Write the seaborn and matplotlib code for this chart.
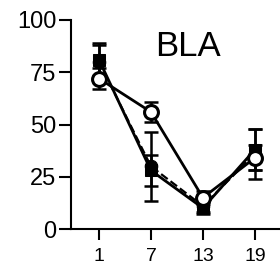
import matplotlib
matplotlib.use("Agg")
import matplotlib.pyplot as plt
import seaborn as sns
import pandas as pd

# Data
days = [1, 7, 13, 19]
sq_mean = [81, 28, 10, 38]
sq_err = [8, 7.5, 3, 10]
fill_mean = [80, 30, 11, 36]
fill_err = [8, 16.5, 3, 12]
open_mean = [72, 56, 15, 34]
open_err = [5, 5, 3, 6]

sns.set_style("ticks")
plt.rcParams['font.family'] = ['Liberation Sans', 'DejaVu Sans']

fig = plt.figure(figsize=(2.8, 2.72), dpi=100)
ax = fig.add_axes([71 / 280, 43 / 272, 209 / 280, 209 / 272])

# error bars first
for m, e in [(fill_mean, fill_err), (sq_mean, sq_err), (open_mean, open_err)]:
    ax.errorbar(days, m, yerr=e, fmt='none', ecolor='black', elinewidth=1.8,
                capsize=4.7, capthick=1.8, zorder=2)

df_fill = pd.DataFrame({'day': days, 'val': fill_mean})
df_sq = pd.DataFrame({'day': days, 'val': sq_mean})
df_open = pd.DataFrame({'day': days, 'val': open_mean})

sns.lineplot(data=df_fill, x='day', y='val', ax=ax, color='black', lw=1.6,
             linestyle='--', marker='o', markersize=9, markerfacecolor='black',
             markeredgecolor='black', zorder=3)
sns.lineplot(data=df_sq, x='day', y='val', ax=ax, color='black', lw=2,
             marker='s', markersize=9, markerfacecolor='black',
             markeredgecolor='black', zorder=4)
sns.lineplot(data=df_open, x='day', y='val', ax=ax, color='black', lw=2,
             marker='o', markersize=10, markerfacecolor='white',
             markeredgecolor='black', markeredgewidth=2.2, zorder=5)

ax.set_xlim(-2.23, 21.9)
ax.set_ylim(0, 100)
ax.set_xticks(days)
ax.set_yticks([0, 25, 50, 75, 100])
ax.set_xlabel('')
ax.set_ylabel('')
ax.tick_params(axis='y', labelsize=17, length=8.5, width=1.5, pad=2, colors='black')
ax.tick_params(axis='x', labelsize=14, length=8, width=1.5, pad=6, colors='black')
for s in ['left', 'bottom']:
    ax.spines[s].set_linewidth(1.5)
    ax.spines[s].set_color('black')
sns.despine(ax=ax)

ax.text(0.56, 0.871, 'BLA', transform=ax.transAxes, fontsize=25, ha='center',
        va='center', color='black')

fig.savefig('out.png', dpi=100)
